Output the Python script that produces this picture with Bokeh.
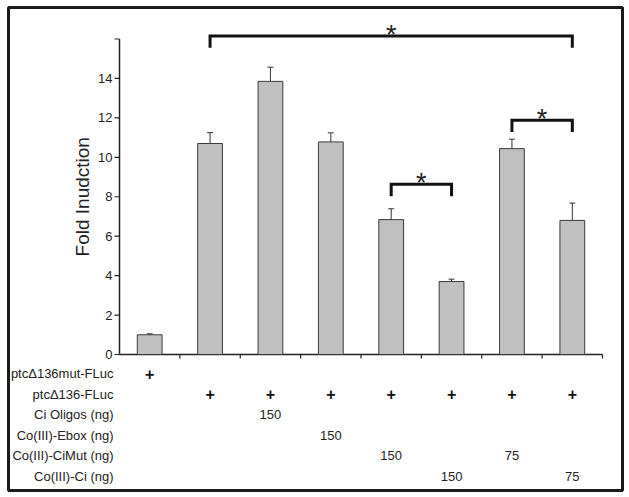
import math
from bokeh.plotting import figure
from bokeh.models import ColumnDataSource, Whisker, TeeHead, Range1d
from bokeh.core.properties import value
from bokeh.embed import file_html
from bokeh.resources import INLINE

# ---- data ----
conditions = [1, 2, 3, 4, 5, 6, 7, 8]
fold = [1.0, 10.7, 13.85, 10.78, 6.84, 3.7, 10.44, 6.8]
err = [0.05, 0.55, 0.72, 0.46, 0.55, 0.12, 0.48, 0.88]
y_ticks = [0, 2, 4, 6, 8, 10, 12, 14, 16]
y_tick_labels = ["0", "2", "4", "6", "8", "10", "12", "14", ""]
y_title = "Fold Inudction"
row_labels = ["ptc\u0394136mut-FLuc", "ptc\u0394136-FLuc", "Ci Oligos (ng)",
              "Co(III)-Ebox (ng)", "Co(III)-CiMut (ng)", "Co(III)-Ci (ng)"]
row_entries = [
    ["+", "", "", "", "", "", "", ""],
    ["", "+", "+", "+", "+", "+", "+", "+"],
    ["", "", "150", "", "", "", "", ""],
    ["", "", "", "150", "", "", "", ""],
    ["", "", "", "", "150", "", "75", ""],
    ["", "", "", "", "", "150", "", "75"],
]
sig_left = [2, 5, 7]
sig_right = [8, 6, 8]
sig_level = [16.15, 8.63, 11.88]

# ---- layout (pixels) ----
FONT = value("Liberation Sans")
W, H = 627, 495
FL, FR, FT, FB = 8, 622, 7, 490          # frame edges (box border)
AXIS_X_PX, ZERO_Y_PX = 119, 354          # where x=0.5 and y=0 sit
PX_CAT, PX_UNIT = 60.375, 19.72
ROW_FIRST_PX, ROW_STEP_PX = 19, 20.6
DROP = 0.6
x0 = 0.5
x_start = x0 - (AXIS_X_PX - FL) / PX_CAT
x_end = x0 + (FR - AXIS_X_PX) / PX_CAT
y_end = (ZERO_Y_PX - FT) / PX_UNIT
y_start = -(FB - ZERO_Y_PX) / PX_UNIT

p = figure(width=W, height=H, output_backend="svg", toolbar_location=None,
           x_range=Range1d(x_start, x_end), y_range=Range1d(y_start, y_end),
           min_border_left=FL, min_border_right=W - FR,
           min_border_top=FT, min_border_bottom=H - FB)
p.xaxis.visible = False
p.yaxis.visible = False
p.grid.visible = False
p.outline_line_color = "#1a1a1a"
p.outline_line_width = 3
p.background_fill_color = "white"
p.border_fill_color = "white"

AX = "#222222"
# y axis (line, ticks, labels, title)
p.segment(x0=[x0], y0=[y_ticks[0]], x1=[x0], y1=[y_ticks[-1]], line_color=AX, line_width=1.5)
tick_len = 5 / PX_CAT
p.segment(x0=[x0 - tick_len] * len(y_ticks), y0=y_ticks, x1=[x0] * len(y_ticks), y1=y_ticks,
          line_color=AX, line_width=1.2)
lbl_pairs = [(t, l) for t, l in zip(y_ticks, y_tick_labels) if l]
p.text(x=[x0] * len(lbl_pairs), y=[t for t, _ in lbl_pairs], text=[l for _, l in lbl_pairs],
       x_offset=-7, text_align="right", text_baseline="middle",
       text_font=FONT, text_font_size="13px", text_color=AX)
p.text(x=[x0 - (AXIS_X_PX - 81.5) / PX_CAT], y=[(y_ticks[0] + y_ticks[-1]) / 2], text=[y_title],
       angle=math.pi / 2, text_align="center", text_baseline="middle",
       text_font=FONT, text_font_size="19px", text_color=AX)

# x axis (line + category separators)
p.segment(x0=[x0], y0=[0], x1=[conditions[-1] + 0.5], y1=[0], line_color=AX, line_width=1.5)
xt = [c + 0.5 for c in conditions]
xtick_len = 4 / PX_UNIT
p.segment(x0=xt, y0=[0] * len(xt), x1=xt, y1=[-xtick_len] * len(xt), line_color=AX, line_width=1.2)

# bars
src = ColumnDataSource(dict(x=conditions, top=fold,
                            upper=[f + e for f, e in zip(fold, err)],
                            lower=[f - e for f, e in zip(fold, err)]))
p.vbar(x="x", top="top", bottom=0, width=0.41, source=src, fill_color="#c0c0c0",
       line_color="#3a3a3a", line_width=1)
p.add_layout(Whisker(source=src, base="x", upper="upper", lower="lower",
                     line_color="#333333", line_width=1,
                     upper_head=TeeHead(size=6, line_color="#333333", line_width=1),
                     lower_head=TeeHead(size=6, line_color="#333333", line_width=1)))

# significance brackets
bx, by = [], []
for l, r, lv in zip(sig_left, sig_right, sig_level):
    bx.append([l, l, r, r])
    by.append([lv - DROP, lv, lv, lv - DROP])
p.multi_line(bx, by, line_color="#111111", line_width=3, line_join="miter")
p.text(x=[(l + r) / 2 for l, r in zip(sig_left, sig_right)], y=sig_level, text=["*"] * len(sig_level),
       text_font=FONT, text_font_size="27px", text_align="center", text_baseline="alphabetic",
       y_offset=-1, text_color="#222222")

# table below the axis
lab_y = []
cell_x, cell_y, cell_t = [], [], []
for k, entries in enumerate(row_entries):
    yk = -(ROW_FIRST_PX + ROW_STEP_PX * k) / PX_UNIT
    lab_y.append(yk)
    for c, e in zip(conditions, entries):
        if e:
            cell_x.append(c)
            cell_y.append(yk)
            cell_t.append(e)

p.text(x=[x0] * len(row_labels), y=lab_y, text=row_labels, x_offset=-6,
       text_align="right", text_baseline="middle", text_font=FONT,
       text_font_size="13px", text_color="#222222")
plus = [t == "+" for t in cell_t]
p.text(x=[x for x, m in zip(cell_x, plus) if m], y=[y for y, m in zip(cell_y, plus) if m],
       text=[t for t, m in zip(cell_t, plus) if m], text_align="center", text_baseline="middle",
       text_font=FONT, text_font_size="16px", text_font_style="bold", text_color="#111111")
p.text(x=[x for x, m in zip(cell_x, plus) if not m], y=[y for y, m in zip(cell_y, plus) if not m],
       text=[t for t, m in zip(cell_t, plus) if not m], text_align="center", text_baseline="middle",
       text_font=FONT, text_font_size="13px", text_color="#222222")

open("out.html", "w").write(file_html(p, INLINE))
